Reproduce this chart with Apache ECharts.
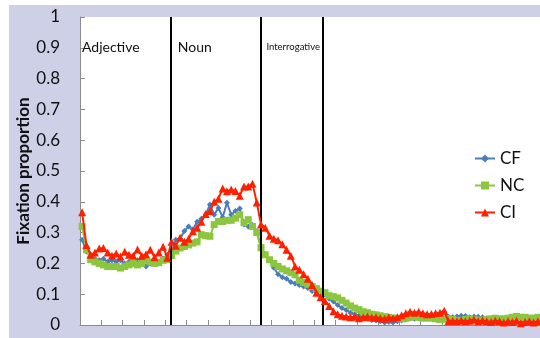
<!DOCTYPE html>
<html>
<head>
<meta charset="utf-8">
<script src="https://cdn.jsdelivr.net/npm/echarts@6/dist/echarts.min.js"></script>
<style>
  html, body { margin: 0; padding: 0; background: #ffffff; }
  #wrap { position: relative; width: 540px; height: 338px; background: #ffffff; overflow: hidden; }
  #chart { position: absolute; left: 9px; top: 5px; width: 531px; height: 333px; background: #CED0E8; }
</style>
</head>
<body>
<div id="wrap"><div id="chart"></div></div>
<script>
// Time bins (categories)
const binCount = 108;
const categories = Array.from({ length: binCount }, (_, i) => String(i + 1));

// Series values (fixation proportion per bin)
const cfValues = [
  0.277, 0.239, 0.228, 0.215, 0.21, 0.215, 0.205, 0.21, 0.205, 0.21,
  0.2, 0.205, 0.2, 0.21, 0.21, 0.19, 0.2, 0.21, 0.205, 0.215,
  0.228, 0.24, 0.277, 0.28, 0.305, 0.32, 0.31, 0.335, 0.345, 0.358,
  0.391, 0.358, 0.38, 0.35, 0.397, 0.358, 0.37, 0.378, 0.326, 0.32,
  0.325, 0.304, 0.251, 0.23, 0.21, 0.186, 0.165, 0.155, 0.15, 0.14,
  0.135, 0.13, 0.125, 0.12, 0.11, 0.108, 0.105, 0.1, 0.085, 0.076,
  0.065, 0.055, 0.049, 0.04, 0.035, 0.03, 0.022, 0.02, 0.016, 0.015,
  0.012, 0.008, 0.01, 0.008, 0.012, 0.015, 0.018, 0.022, 0.02, 0.022,
  0.025, 0.02, 0.022, 0.03, 0.035, 0.043, 0.027, 0.025, 0.028, 0.03,
  0.029, 0.025, 0.028, 0.027, 0.025, 0.022, 0.019, 0.02, 0.015, 0.011,
  0.01, 0.012, 0.01, 0.008, 0.01, 0.012, 0.01, 0.01
];
const ncValues = [
  0.32, 0.244, 0.212, 0.205, 0.2, 0.195, 0.19, 0.19, 0.19, 0.185,
  0.19, 0.195, 0.2, 0.195, 0.2, 0.21, 0.205, 0.2, 0.202, 0.21,
  0.212, 0.225, 0.24, 0.25, 0.255, 0.26, 0.266, 0.27, 0.293, 0.29,
  0.288, 0.326, 0.336, 0.336, 0.34, 0.34, 0.347, 0.358, 0.332, 0.342,
  0.32, 0.3, 0.251, 0.228, 0.212, 0.2, 0.19, 0.182, 0.176, 0.17,
  0.163, 0.145, 0.138, 0.132, 0.125, 0.118, 0.11, 0.105, 0.095, 0.092,
  0.088, 0.08, 0.071, 0.062, 0.055, 0.05, 0.043, 0.04, 0.035, 0.033,
  0.03, 0.027, 0.025, 0.022, 0.022, 0.02, 0.022, 0.025, 0.027, 0.025,
  0.022, 0.025, 0.022, 0.02, 0.018, 0.019, 0.02, 0.018, 0.015, 0.015,
  0.018, 0.02, 0.018, 0.015, 0.016, 0.018, 0.02, 0.022, 0.02, 0.02,
  0.022, 0.025, 0.028, 0.025, 0.025, 0.022, 0.022, 0.025
];
const ciValues = [
  0.366, 0.26, 0.228, 0.235, 0.248, 0.25, 0.235, 0.225, 0.232, 0.222,
  0.238, 0.228, 0.225, 0.245, 0.225, 0.23, 0.244, 0.22, 0.235, 0.254,
  0.218, 0.27, 0.257, 0.283, 0.27, 0.28, 0.304, 0.316, 0.335, 0.36,
  0.37, 0.4, 0.41, 0.443, 0.434, 0.44, 0.435, 0.42, 0.45, 0.45,
  0.459, 0.398, 0.326, 0.316, 0.29, 0.28, 0.275, 0.262, 0.244, 0.225,
  0.19, 0.179, 0.165, 0.15, 0.13, 0.105, 0.09, 0.078, 0.062, 0.045,
  0.035, 0.03, 0.028, 0.025, 0.027, 0.022, 0.025, 0.028, 0.024, 0.025,
  0.022, 0.02, 0.025, 0.022, 0.025, 0.032, 0.038, 0.043, 0.04, 0.043,
  0.038, 0.035, 0.036, 0.038, 0.04, 0.046, 0.012, 0.013, 0.012, 0.015,
  0.012, 0.014, 0.018, 0.012, 0.015, 0.012, 0.01, 0.014, 0.012, 0.008,
  0.012, 0.01, 0.014, 0.006, 0.01, 0.012, 0.008, 0.012
];

// Region boundaries (in bin units from the start of the axis) and their labels
const regionNames = ['Adjective', 'Noun', 'Interrogative'];
const regionStarts = [0, 21.3, 42.35];
const regionEnds = [21.3, 42.35, 57.1];

// Y-axis ticks
const yMin = 0, yMax = 1, yStep = 0.1;

const FONT = 'Lato, "Open Sans", "Liberation Sans", sans-serif';
const chart = echarts.init(document.getElementById('chart'), null, { renderer: 'canvas' });

const regionLabelStyles = [
  { fontSize: 14, dx: 2 },
  { fontSize: 14, dx: 7 },
  { fontSize: 9.5, dx: 6 }
];

const GRID_TOP = 12;

const option = {
  animation: false,
  backgroundColor: 'transparent',
  textStyle: { fontFamily: FONT },
  grid: {
    left: 71, top: GRID_TOP, right: 0, bottom: 13,
    outerBoundsMode: 'none', containLabel: false,
    show: true, backgroundColor: '#ffffff', borderWidth: 0
  },
  legend: {
    orient: 'vertical',
    left: 460, top: 140,
    itemWidth: 20, itemHeight: 10, itemGap: 10,
    textStyle: { fontSize: 17, color: '#111', fontFamily: FONT },
    data: ['CF', 'NC', 'CI']
  },
  xAxis: [
    {
      type: 'category',
      data: categories,
      boundaryGap: true,
      axisLine: { lineStyle: { color: '#8c8c8c', width: 1 } },
      axisTick: { show: true, inside: true, length: 5, interval: 4, lineStyle: { color: '#8c8c8c' } },
      axisLabel: { show: false },
      splitLine: { show: false }
    },
    {
      type: 'value',
      min: 0, max: binCount,
      show: false,
      splitLine: { show: false }
    }
  ],
  yAxis: {
    type: 'value',
    min: yMin, max: yMax, interval: yStep,
    name: 'Fixation proportion',
    nameLocation: 'middle',
    nameGap: 48,
    nameMoveOverlap: false,
    nameTextStyle: { fontSize: 17, fontWeight: 'bold', color: '#111', fontFamily: FONT },
    axisLine: { show: true, lineStyle: { color: '#8c8c8c', width: 1 } },
    axisTick: { show: true, inside: true, length: 5, lineStyle: { color: '#8c8c8c' } },
    axisLabel: { fontSize: 17, color: '#111', margin: 20, fontFamily: FONT },
    splitLine: { show: false }
  },
  series: [
    {
      name: 'CF', type: 'line', data: cfValues,
      symbol: 'diamond', symbolSize: 6, showAllSymbol: true,
      lineStyle: { color: '#4A7EBB', width: 2 },
      itemStyle: { color: '#4A7EBB' },
      z: 3
    },
    {
      name: 'NC', type: 'line', data: ncValues,
      symbol: 'rect', symbolSize: 7, showAllSymbol: true,
      lineStyle: { color: '#8CC63F', width: 2 },
      itemStyle: { color: '#8CC63F' },
      z: 4
    },
    {
      name: 'CI', type: 'line', data: ciValues,
      symbol: 'triangle', symbolSize: 8, showAllSymbol: true,
      lineStyle: { color: '#FF2000', width: 2 },
      itemStyle: { color: '#FF2000' },
      z: 5
    },
    {
      name: 'regions', type: 'line', xAxisIndex: 1, data: [],
      silent: true,
      markLine: {
        silent: true, symbol: 'none',
        label: { show: false },
        lineStyle: { color: '#000', width: 2, type: 'solid' },
        data: regionEnds.map(v => ({ xAxis: v }))
      },
      z: 6
    }
  ]
};
chart.setOption(option);

// Region labels placed at the pixel position of each region start
chart.setOption({
  graphic: regionNames.map((n, i) => {
    const px = chart.convertToPixel({ xAxisIndex: 1 }, regionStarts[i]);
    return {
      type: 'text',
      x: px + regionLabelStyles[i].dx,
      y: GRID_TOP + 30,
      z: 10,
      style: {
        text: n,
        fontSize: regionLabelStyles[i].fontSize,
        fontFamily: FONT,
        fill: '#111',
        verticalAlign: 'middle',
        align: 'left'
      }
    };
  })
});
</script>
</body>
</html>
